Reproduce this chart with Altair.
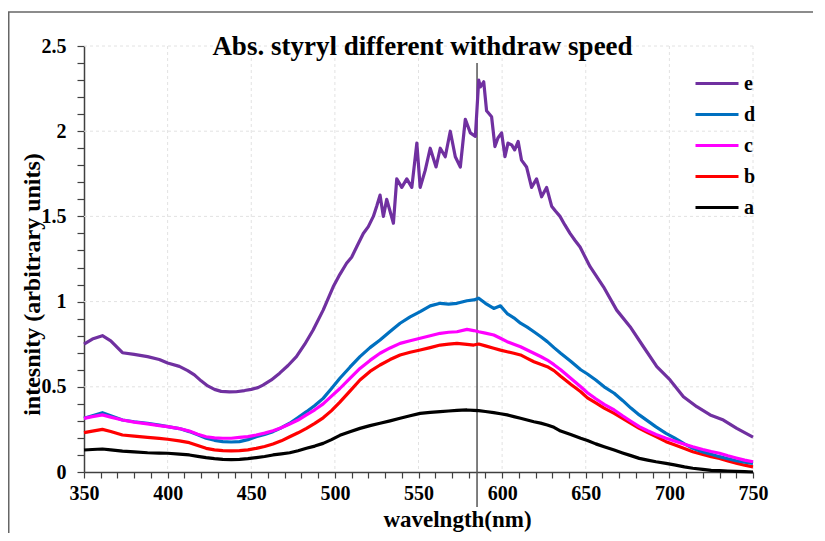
import altair as alt
import pandas as pd

# ---- data ----
wl_e = [350, 355, 361, 366, 373, 380, 388, 395, 400, 407, 412, 416, 420, 424, 428, 432, 437, 441, 446, 450,
        454, 457, 462, 467, 472, 477, 482, 487, 493, 499, 503, 507, 510, 513, 517, 520, 523, 525, 527, 529,
        531, 533, 535, 537, 540, 543, 546, 549, 551, 554, 557, 560.5, 563, 566, 569, 572, 575, 578, 581, 584,
        586, 587, 589, 590.7, 593.7, 595.7, 597.5, 599.7, 601.7, 603.5, 605.7, 607.5, 609.6, 611.6, 614.6,
        617.6, 620.6, 623.6, 626.6, 629.6, 632, 634.6, 637.5, 640.6, 643.5, 646.6, 652.6, 660.6, 668.5, 676.5,
        684.5, 692.5, 700.4, 708.4, 716.4, 724.4, 732.3, 740.3, 750]
val_e = [0.75, 0.78, 0.80, 0.77, 0.70, 0.69, 0.677, 0.66, 0.64, 0.62, 0.595, 0.57, 0.535, 0.505, 0.485, 0.473,
         0.47, 0.471, 0.478, 0.485, 0.495, 0.51, 0.54, 0.58, 0.625, 0.677, 0.75, 0.833, 0.95, 1.087, 1.16,
         1.225, 1.26, 1.32, 1.40, 1.44, 1.50, 1.56, 1.625, 1.50, 1.60, 1.53, 1.46, 1.72, 1.67, 1.72, 1.67,
         1.93, 1.67, 1.77, 1.90, 1.79, 1.90, 1.85, 2.00, 1.85, 1.79, 2.07, 1.99, 1.97, 2.30, 2.26, 2.29, 2.12,
         2.085, 1.91, 1.96, 1.99, 1.85, 1.93, 1.92, 1.89, 1.94, 1.83, 1.79, 1.67, 1.72, 1.615, 1.67, 1.56,
         1.53, 1.50, 1.45, 1.40, 1.36, 1.32, 1.205, 1.087, 0.95, 0.853, 0.735, 0.618, 0.54, 0.442, 0.383,
         0.335, 0.305, 0.256, 0.205]

wl_dcb = [350, 355, 361, 366, 373, 380, 388, 395, 400, 407, 413, 418, 423, 428, 433, 438, 443, 448, 453, 458,
          463, 468, 473, 478, 483, 488, 493, 498, 503, 509, 515, 521, 527, 533, 539, 545, 551, 557, 563, 568,
          573, 579, 583, 586, 590, 595, 599, 603, 607, 611, 615, 619, 623, 627, 631, 635, 641, 647, 651, 656,
          661, 667, 672, 677, 682, 687, 692, 698, 703, 709, 714, 720, 725, 730, 735, 740, 745, 750]
val_d = [0.315, 0.33, 0.348, 0.33, 0.305, 0.295, 0.286, 0.275, 0.266, 0.255, 0.237, 0.218, 0.198, 0.186,
         0.178, 0.176, 0.178, 0.19, 0.207, 0.22, 0.237, 0.26, 0.286, 0.32, 0.354, 0.39, 0.432, 0.49, 0.55,
         0.615, 0.677, 0.73, 0.775, 0.825, 0.873, 0.91, 0.941, 0.975, 0.99, 0.985, 0.99, 1.005, 1.01, 1.02,
         0.99, 0.96, 0.975, 0.93, 0.905, 0.873, 0.85, 0.823, 0.795, 0.765, 0.73, 0.697, 0.65, 0.6, 0.575,
         0.54, 0.5, 0.462, 0.42, 0.375, 0.335, 0.3, 0.265, 0.227, 0.2, 0.165, 0.139, 0.118, 0.104, 0.09,
         0.078, 0.066, 0.058, 0.051]
val_c = [0.315, 0.325, 0.335, 0.322, 0.305, 0.293, 0.282, 0.272, 0.266, 0.255, 0.24, 0.222, 0.207, 0.2,
         0.198, 0.198, 0.203, 0.208, 0.217, 0.228, 0.242, 0.26, 0.282, 0.305, 0.335, 0.365, 0.4, 0.445, 0.49,
         0.55, 0.608, 0.655, 0.697, 0.728, 0.755, 0.77, 0.785, 0.8, 0.814, 0.82, 0.823, 0.837, 0.83, 0.823,
         0.815, 0.804, 0.785, 0.765, 0.75, 0.735, 0.716, 0.697, 0.678, 0.657, 0.63, 0.6, 0.55, 0.5, 0.465,
         0.43, 0.397, 0.364, 0.33, 0.298, 0.266, 0.242, 0.22, 0.198, 0.182, 0.163, 0.148, 0.132, 0.12, 0.11,
         0.095, 0.082, 0.07, 0.06]
val_b = [0.231, 0.24, 0.25, 0.238, 0.217, 0.21, 0.203, 0.197, 0.192, 0.183, 0.172, 0.155, 0.139, 0.13,
         0.125, 0.124, 0.125, 0.13, 0.139, 0.15, 0.164, 0.183, 0.207, 0.23, 0.256, 0.285, 0.318, 0.36, 0.41,
         0.475, 0.54, 0.59, 0.628, 0.66, 0.687, 0.703, 0.716, 0.73, 0.745, 0.75, 0.755, 0.749, 0.745, 0.751,
         0.74, 0.726, 0.715, 0.706, 0.697, 0.687, 0.667, 0.647, 0.632, 0.618, 0.595, 0.562, 0.515, 0.471,
         0.435, 0.405, 0.375, 0.344, 0.315, 0.285, 0.256, 0.232, 0.208, 0.178, 0.16, 0.138, 0.119, 0.103,
         0.09, 0.08, 0.065, 0.052, 0.04, 0.03]
val_a = [0.129, 0.132, 0.135, 0.13, 0.123, 0.118, 0.113, 0.111, 0.11, 0.105, 0.1, 0.092, 0.084, 0.078,
         0.074, 0.073, 0.074, 0.078, 0.084, 0.091, 0.1, 0.106, 0.113, 0.125, 0.139, 0.152, 0.168, 0.19, 0.215,
         0.236, 0.256, 0.272, 0.286, 0.3, 0.315, 0.33, 0.344, 0.35, 0.354, 0.358, 0.362, 0.364, 0.362, 0.36,
         0.355, 0.348, 0.342, 0.335, 0.325, 0.315, 0.305, 0.295, 0.287, 0.276, 0.262, 0.24, 0.22, 0.198,
         0.185, 0.165, 0.148, 0.129, 0.112, 0.096, 0.08, 0.07, 0.06, 0.051, 0.042, 0.03, 0.022, 0.015, 0.01,
         0.008, 0.006, 0.004, 0.002, 0.0]

series_names = ["e", "d", "c", "b", "a"]
series_colors = ["#7030A0", "#0070C0", "#FF00FF", "#FF0000", "#000000"]

x_ticks = [350, 360, 370, 380, 390, 400, 410, 420, 430, 440, 450, 460, 470, 480, 490, 500, 510, 520, 530,
           540, 550, 560, 570, 580, 590, 600, 610, 620, 630, 640, 650, 660, 670, 680, 690, 700, 710, 720,
           730, 740, 750]
y_ticks = [0, 0.1, 0.2, 0.3, 0.4, 0.5, 0.6, 0.7, 0.8, 0.9, 1.0, 1.1, 1.2, 1.3, 1.4, 1.5, 1.6, 1.7, 1.8,
           1.9, 2.0, 2.1, 2.2, 2.3, 2.4, 2.5]
x_grid = [400, 450, 500, 550, 600, 650, 700, 750]
y_grid = [0.5, 1.0, 1.5, 2.0, 2.5]
marker_wl = [585]

title_text = "Abs. styryl different withdraw speed"
x_title = "wavelngth(nm)"
y_title = "intesnity (arbitrary units)"

# ---- tables ----
rows = []
for name, wl, vals in [("a", wl_dcb, val_a), ("b", wl_dcb, val_b), ("d", wl_dcb, val_d),
                       ("c", wl_dcb, val_c), ("e", wl_e, val_e)]:
    for w, v in zip(wl, vals):
        rows.append({"series": name, "wl": w, "val": v})
df = pd.DataFrame(rows)

FONT = "Liberation Serif"
W, H = 669, 426

xscale = alt.Scale(domain=[350, 750], nice=False, zero=False)
yscale = alt.Scale(domain=[0, 2.5], nice=False)

x_axis = alt.Axis(values=x_ticks, grid=False, tickSize=6, labelPadding=5, labelOverlap=False,
                  labelExpr="datum.value % 50 == 0 ? datum.label : ''",
                  title=x_title, titleX=373, titleY=47, titleBaseline="middle",
                  titleFontSize=23, titleAnchor="start", titleAlign="center")
y_axis = alt.Axis(values=y_ticks, grid=False, tickSize=7, labelPadding=11, labelOverlap=False,
                  labelExpr="(round(datum.value*10) % 5 == 0) ? format(datum.value, '~g') : ''",
                  title=y_title, titleX=-52, titleY=238, titleBaseline="middle",
                  titleFontSize=24, titleAlign="center", titleAngle=270)

xgrid = alt.Chart(pd.DataFrame({"wl": x_grid})).mark_rule(
    color="#e2e2e2", strokeDash=[3, 3], strokeWidth=1
).encode(x=alt.X("wl:Q", scale=xscale, axis=x_axis))
ygrid = alt.Chart(pd.DataFrame({"val": y_grid})).mark_rule(
    color="#e2e2e2", strokeDash=[3, 3], strokeWidth=1
).encode(y=alt.Y("val:Q", scale=yscale, axis=y_axis))

lines = alt.Chart(df).mark_line(strokeWidth=3.2, strokeJoin="round").encode(
    x=alt.X("wl:Q", scale=xscale, axis=x_axis),
    y=alt.Y("val:Q", scale=yscale, axis=y_axis),
    color=alt.Color("series:N",
                    scale=alt.Scale(domain=series_names, range=series_colors),
                    legend=alt.Legend(title=None, orient="none", legendX=610, legendY=23,
                                      symbolType="stroke", symbolSize=1849, symbolStrokeWidth=3,
                                      labelFont=FONT, labelFontSize=20, labelFontWeight="bold",
                                      labelColor="#000000", labelOffset=4, rowPadding=2,
                                      clipHeight=29)),
    detail="series:N",
)

marker = alt.Chart(pd.DataFrame({"wl": marker_wl})).mark_rule(color="#555555", strokeWidth=1.5).encode(
    x=alt.X("wl:Q", scale=xscale, axis=x_axis), y=alt.value(17), y2=alt.value(461)
)

one = pd.DataFrame({"k": [0]})
frame_top = alt.Chart(one).mark_rule(color="#666666", strokeWidth=1.5).encode(
    x=alt.value(-76), x2=alt.value(W + 70), y=alt.value(-34)
)
frame_left = alt.Chart(one).mark_rule(color="#666666", strokeWidth=1.5).encode(
    x=alt.value(-75.25), y=alt.value(-34), y2=alt.value(H + 70)
)
title_mark = alt.Chart(one).mark_text(
    font=FONT, fontSize=27, fontWeight="bold", color="#000000", align="center", baseline="alphabetic"
).encode(x=alt.value(W / 2 + 4), y=alt.value(9), text=alt.value(title_text))

chart = alt.layer(xgrid, ygrid, marker, lines, frame_top, frame_left, title_mark).properties(
    width=W, height=H,
    autosize=alt.AutoSizeParams(type="none"),
    padding={"left": 76, "top": 38, "right": 60, "bottom": 61},
).configure_view(stroke=None).configure_axis(
    labelFont=FONT, labelFontSize=20, labelFontWeight="bold", labelColor="#000000",
    titleFont=FONT, titleFontWeight="bold", titleColor="#000000",
    domainColor="#404040", domainWidth=1.5, tickColor="#404040", tickWidth=1.2,
    labelOverlap=False, labelFlush=False,
)

chart.save("out.html", embed_options={"renderer": "svg", "actions": False})
